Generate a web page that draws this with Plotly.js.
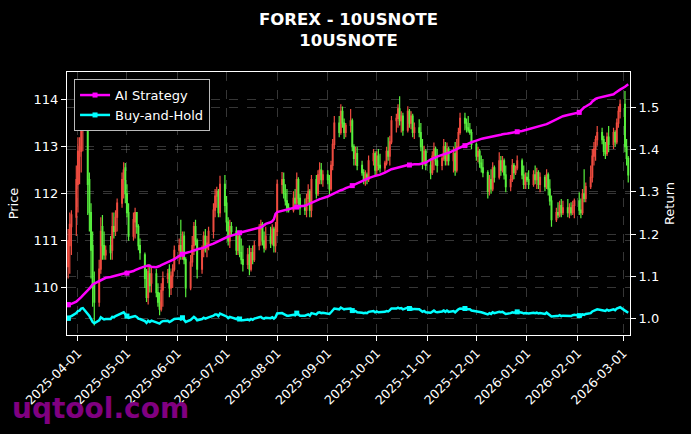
<!DOCTYPE html>
<html>
<head>
<meta charset="utf-8">
<script src="https://cdn.plot.ly/plotly-3.0.1.min.js"></script>
<style>
html,body{margin:0;padding:0;background:#000;}
#chart{width:691px;height:434px;}
</style>
</head>
<body>
<div id="chart"></div>
<script>
// ---------------- data ----------------
const startDate = "2025-03-26";
const endDate = "2026-03-04";

const openPx = [
  110.45, 110.9, 111.3, 111.5,
  112.2, 112.8, 112.9, 113.4, 113.7, 112.3, 111.6, 110.9, 110.1, 109.7, 110.4, 111.3, 110.9, 110.7, 110.9, 110.8, 111.3, 111.2, 111.5, 111.8, 112.3, 112.55,
  112.0, 111.6, 111.1, 111.4, 111.6, 111.3, 110.9, 110.7, 110.2, 109.8, 110.3, 110.1, 110.3, 109.9, 109.7, 109.55, 109.95, 110.2, 110.4, 110.0, 110.25, 110.4,
  110.8, 110.9, 110.8, 111.1, 110.6, 110.0, 110.55, 110.9, 111.3, 111.0, 110.4, 110.8, 111.1, 110.85, 110.95, 111.2, 111.65, 111.95, 112.05, 111.6, 112.2,
  111.8, 111.4, 111.0, 111.3, 111.2, 110.8, 111.1, 110.75, 110.6, 110.5, 110.7, 110.4, 110.75, 110.6, 110.9, 111.25, 111.35, 111.0, 110.85, 111.1, 110.95, 111.25, 110.9,
  111.2, 112.2, 112.3, 112.0, 111.85, 111.7, 111.65, 111.9, 111.8, 112.3, 111.9, 111.7, 111.65, 111.9, 112.05, 111.65, 112.3, 112.0, 112.4, 112.5, 112.3,
  112.4, 112.3, 112.1, 112.6, 113.05, 113.5, 113.3, 113.75, 113.5, 113.3, 113.45, 113.55, 113.0, 112.75, 112.85, 112.6, 112.45, 112.3, 112.4, 112.3, 112.7, 112.85,
  112.5, 112.8, 112.6, 112.55, 112.65, 112.9, 112.8, 113.1, 113.55, 113.6, 113.8, 113.55, 113.65, 113.35, 113.75, 113.5, 113.65, 113.3, 113.4, 113.3, 113.0, 112.65, 112.9,
  112.6, 112.45, 112.8, 112.95, 112.7, 112.6, 112.75, 113.0, 112.7, 112.95, 112.7, 112.85, 112.5, 113.0, 113.3, 113.6, 113.5, 113.4, 113.35, 113.3,
  113.05, 112.8, 112.9, 112.65, 112.55, 112.45, 112.05, 112.3, 112.1, 112.55, 112.35, 112.7, 112.5, 112.7, 112.4, 112.15, 112.3, 112.6, 112.45, 112.55, 112.7, 112.4, 112.2,
  112.35, 112.3, 112.2, 112.4, 112.3, 112.45, 112.2, 112.35, 112.15, 112.4, 112.1, 111.85, 111.45, 111.6, 111.55, 111.75, 111.6, 111.7, 111.6, 111.7, 111.6, 111.75,
  111.85, 111.65, 111.6, 112.0, 111.9, 112.15, 112.35, 112.8, 112.95, 113.15, 113.3, 113.15, 112.9, 112.85, 113.2, 113.05, 113.3, 113.1, 113.5, 113.75,
  113.9, 113.0, 112.75
];

const highPx = [
  111.25, 111.6, 111.65, 112.6,
  113.2, 113.2, 113.65, 113.9, 114.3, 112.45, 111.8, 111.2, 110.35, 110.6, 111.5, 111.55, 111.2, 110.9, 111.1, 111.6, 111.6, 111.65, 111.9, 112.45, 112.67, 112.65,
  112.2, 111.8, 111.6, 111.7, 111.6, 111.35, 111.05, 110.75, 110.4, 110.5, 110.5, 110.45, 110.4, 110.1, 109.9, 110.1, 110.35, 110.4, 110.5, 110.35, 110.5, 110.9,
  111.05, 111.45, 111.2, 111.2, 110.65, 110.7, 111.1, 111.4, 111.45, 111.05, 110.9, 111.2, 111.25, 111.1, 111.3, 111.8, 112.1, 112.15, 112.1, 112.38, 112.4,
  111.95, 111.5, 111.45, 111.4, 111.3, 111.2, 111.15, 111.05, 110.9, 110.85, 110.9, 110.85, 110.9, 111.0, 111.35, 111.45, 111.4, 111.2, 111.3, 111.3, 111.35, 111.3, 111.4,
  112.3, 112.46, 112.45, 112.2, 112.1, 111.8, 112.05, 112.1, 112.45, 112.35, 112.0, 111.9, 112.0, 112.2, 112.1, 112.4, 112.4, 112.5, 112.67, 112.65, 112.5,
  112.5, 112.4, 112.7, 113.16, 113.65, 113.65, 113.9, 113.85, 113.6, 113.5, 113.8, 113.6, 113.05, 113.0, 113.0, 112.7, 112.52, 112.5, 112.45, 112.81, 112.95, 112.9,
  112.9, 112.95, 112.85, 112.7, 113.0, 113.2, 113.23, 113.65, 113.7, 113.9, 114.07, 113.75, 113.72, 113.86, 113.8, 113.75, 113.7, 113.51, 113.58, 113.5, 113.16, 113.02, 112.95,
  112.75, 112.9, 113.09, 113.0, 112.95, 112.8, 113.16, 113.1, 113.09, 113.0, 113.0, 113.1, 113.16, 113.4, 113.72, 113.72, 113.6, 113.65, 113.5, 113.37,
  113.09, 113.0, 112.95, 112.81, 112.74, 112.5, 112.4, 112.52, 112.67, 112.6, 112.88, 112.8, 112.8, 112.75, 112.6, 112.4, 112.74, 112.65, 112.6, 112.81, 112.75, 112.6, 112.45,
  112.45, 112.5, 112.5, 112.6, 112.55, 112.5, 112.45, 112.4, 112.52, 112.45, 112.31, 111.96, 111.7, 111.82, 111.85, 111.89, 111.85, 111.89, 111.8, 111.82, 111.85, 111.9,
  112.03, 111.9, 112.1, 112.52, 112.24, 112.6, 112.95, 113.1, 113.23, 113.44, 113.4, 113.23, 113.1, 113.3, 113.44, 113.4, 113.35, 113.6, 113.86, 114.0,
  114.18, 113.16, 112.8
];

const lowPx = [
  110.2, 110.3, 110.7, 111.1,
  111.6, 112.2, 112.45, 112.9, 111.55, 111.2, 110.2, 109.6, 109.2, 109.6, 110.3, 110.6, 110.6, 110.6, 110.6, 110.6, 111.05, 111.1, 111.2, 111.7, 111.9, 111.8,
  111.5, 111.0, 111.0, 111.05, 111.15, 110.8, 110.6, 110.0, 109.7, 109.65, 109.9, 109.9, 109.8, 109.6, 109.42, 109.5, 109.6, 110.1, 109.8, 109.85, 110.0, 110.35,
  110.5, 110.6, 110.6, 110.5, 109.8, 109.95, 110.45, 110.7, 110.9, 110.2, 110.3, 110.65, 110.75, 110.65, 110.8, 111.05, 111.5, 111.7, 111.5, 111.5, 111.6,
  111.2, 110.9, 110.85, 111.1, 110.7, 110.7, 110.65, 110.5, 110.35, 110.4, 110.27, 110.35, 110.5, 110.55, 110.8, 110.9, 110.9, 110.75, 110.8, 110.85, 110.9, 110.75, 110.75,
  111.1, 112.0, 111.9, 111.75, 111.6, 111.6, 111.6, 111.7, 111.75, 111.75, 111.55, 111.55, 111.5, 111.8, 111.5, 111.5, 111.9, 111.95, 112.2, 112.2, 112.15,
  112.2, 111.96, 112.05, 112.5, 112.95, 113.2, 113.25, 113.4, 113.16, 113.2, 113.3, 112.9, 112.6, 112.6, 112.5, 112.38, 112.2, 112.17, 112.2, 112.25, 112.6, 112.4,
  112.4, 112.5, 112.45, 112.45, 112.6, 112.7, 112.6, 113.05, 113.3, 113.4, 113.45, 113.3, 113.23, 113.3, 113.4, 113.37, 113.2, 113.16, 113.2, 112.9, 112.52, 112.6, 112.5,
  112.31, 112.4, 112.5, 112.6, 112.45, 112.5, 112.7, 112.6, 112.6, 112.6, 112.45, 112.38, 112.45, 112.95, 113.25, 113.35, 113.3, 113.3, 113.25, 112.95,
  112.7, 112.67, 112.55, 112.45, 112.35, 111.9, 111.96, 112.0, 112.05, 112.24, 112.3, 112.38, 112.45, 112.3, 112.03, 112.05, 112.25, 112.31, 112.4, 112.5, 112.31, 112.1, 112.1,
  112.25, 112.1, 112.15, 112.2, 112.1, 112.1, 112.03, 112.05, 112.1, 111.96, 111.75, 111.3, 111.4, 111.48, 111.5, 111.5, 111.55, 111.5, 111.48, 111.54, 111.55, 111.48,
  111.55, 111.48, 111.55, 111.82, 111.82, 112.1, 112.24, 112.6, 112.7, 113.02, 113.05, 112.8, 112.74, 112.8, 112.88, 112.95, 113.0, 113.05, 113.4, 113.6,
  112.88, 112.6, 112.24
];

const closePx = [
  111.0, 111.35, 111.55, 112.3,
  112.9, 113.0, 113.5, 113.7, 112.2, 111.6, 110.8, 110.0, 109.7, 110.4, 111.2, 110.9, 110.7, 110.8, 110.75, 111.3, 111.2, 111.5, 111.8, 112.3, 112.5, 112.0,
  111.6, 111.1, 111.45, 111.6, 111.3, 110.9, 110.75, 110.2, 109.8, 110.35, 110.05, 110.3, 109.9, 109.7, 109.55, 109.95, 110.2, 110.3, 110.0, 110.25, 110.4, 110.8,
  110.9, 110.7, 111.1, 110.6, 110.0, 110.55, 110.9, 111.3, 111.0, 110.4, 110.8, 111.1, 110.85, 110.95, 111.2, 111.65, 111.95, 112.05, 111.6, 112.2, 111.75,
  111.4, 111.0, 111.3, 111.2, 110.8, 111.1, 110.75, 110.6, 110.5, 110.7, 110.4, 110.75, 110.6, 110.9, 111.25, 111.35, 111.0, 110.85, 111.1, 110.95, 111.25, 110.9, 111.2,
  112.2, 112.3, 112.0, 111.85, 111.7, 111.65, 111.9, 111.8, 112.3, 111.9, 111.7, 111.65, 111.9, 112.05, 111.65, 112.3, 112.0, 112.4, 112.5, 112.3, 112.4,
  112.3, 112.1, 112.6, 113.05, 113.5, 113.3, 113.75, 113.5, 113.3, 113.45, 113.55, 113.0, 112.75, 112.85, 112.6, 112.45, 112.3, 112.4, 112.3, 112.7, 112.85, 112.5,
  112.8, 112.6, 112.55, 112.65, 112.9, 112.8, 113.1, 113.55, 113.6, 113.8, 113.55, 113.65, 113.35, 113.75, 113.5, 113.65, 113.3, 113.4, 113.3, 113.0, 112.65, 112.9, 112.6,
  112.45, 112.8, 112.95, 112.7, 112.6, 112.75, 113.0, 112.7, 112.95, 112.7, 112.85, 112.5, 113.0, 113.3, 113.6, 113.5, 113.4, 113.35, 113.3, 113.05,
  112.8, 112.9, 112.65, 112.55, 112.45, 112.05, 112.3, 112.1, 112.55, 112.35, 112.7, 112.5, 112.7, 112.4, 112.15, 112.3, 112.6, 112.45, 112.55, 112.7, 112.4, 112.2, 112.35,
  112.3, 112.2, 112.4, 112.3, 112.45, 112.2, 112.35, 112.15, 112.4, 112.1, 111.85, 111.45, 111.6, 111.55, 111.75, 111.6, 111.7, 111.6, 111.7, 111.6, 111.75, 111.85,
  111.65, 111.6, 112.0, 111.9, 112.15, 112.35, 112.8, 112.95, 113.15, 113.3, 113.15, 112.9, 112.85, 113.2, 113.05, 113.3, 113.1, 113.5, 113.75, 113.9,
  113.0, 112.75, 112.4
];

const aiReturn = [
  1.032, 1.033, 1.034, 1.039,
  1.042, 1.045, 1.05, 1.054, 1.065, 1.07, 1.075, 1.08, 1.082, 1.088, 1.09, 1.092, 1.094, 1.096, 1.098, 1.099, 1.1, 1.101, 1.102, 1.104, 1.105, 1.106,
  1.107, 1.108, 1.112, 1.114, 1.116, 1.117, 1.119, 1.123, 1.124, 1.125, 1.124, 1.122, 1.121, 1.122, 1.124, 1.126, 1.128, 1.132, 1.134, 1.136, 1.138, 1.14,
  1.148, 1.15, 1.152, 1.154, 1.155, 1.158, 1.16, 1.161, 1.162, 1.164, 1.166, 1.167, 1.169, 1.171, 1.173, 1.177, 1.179, 1.181, 1.182, 1.184, 1.19,
  1.192, 1.194, 1.195, 1.196, 1.2, 1.201, 1.203, 1.204, 1.205, 1.207, 1.209, 1.21, 1.211, 1.212, 1.214, 1.216, 1.218, 1.221, 1.224, 1.228, 1.23, 1.235, 1.248,
  1.252, 1.255, 1.257, 1.258, 1.259, 1.26, 1.262, 1.263, 1.264, 1.265, 1.266, 1.267, 1.269, 1.271, 1.273, 1.275, 1.279, 1.281, 1.283, 1.284, 1.285,
  1.289, 1.291, 1.293, 1.295, 1.297, 1.302, 1.304, 1.305, 1.307, 1.309, 1.313, 1.315, 1.317, 1.319, 1.321, 1.326, 1.328, 1.33, 1.332, 1.333, 1.337, 1.338,
  1.339, 1.34, 1.341, 1.346, 1.348, 1.35, 1.352, 1.354, 1.357, 1.358, 1.36, 1.361, 1.362, 1.364, 1.364, 1.365, 1.365, 1.366, 1.366, 1.367, 1.367, 1.368, 1.37,
  1.377, 1.379, 1.381, 1.382, 1.384, 1.388, 1.389, 1.39, 1.391, 1.393, 1.398, 1.4, 1.402, 1.404, 1.406, 1.41, 1.412, 1.414, 1.416, 1.418,
  1.422, 1.424, 1.425, 1.426, 1.427, 1.429, 1.43, 1.431, 1.432, 1.433, 1.435, 1.436, 1.437, 1.438, 1.438, 1.44, 1.441, 1.442, 1.442, 1.443, 1.445, 1.446, 1.447,
  1.448, 1.449, 1.452, 1.453, 1.455, 1.456, 1.457, 1.46, 1.461, 1.463, 1.465, 1.467, 1.473, 1.475, 1.477, 1.479, 1.48, 1.483, 1.484, 1.485, 1.486, 1.487,
  1.489, 1.493, 1.498, 1.501, 1.503, 1.51, 1.515, 1.519, 1.521, 1.523, 1.526, 1.527, 1.528, 1.529, 1.53, 1.532, 1.535, 1.538, 1.541, 1.543,
  1.55, 1.553, 1.556
];

const holdReturn = [
  1.0, 1.003, 1.005, 1.012,
  1.017, 1.018, 1.023, 1.024, 1.011, 1.005, 0.998, 0.991, 0.988, 0.995, 1.002, 0.999, 0.997, 0.998, 0.998, 1.003, 1.002, 1.005, 1.007, 1.012, 1.014, 1.009,
  1.005, 1.001, 1.004, 1.005, 1.003, 0.999, 0.998, 0.993, 0.989, 0.994, 0.991, 0.994, 0.99, 0.988, 0.987, 0.991, 0.993, 0.994, 0.991, 0.993, 0.995, 0.998,
  0.999, 0.997, 1.001, 0.996, 0.991, 0.996, 0.999, 1.003, 1.0, 0.995, 0.998, 1.001, 0.999, 1.0, 1.002, 1.006, 1.009, 1.009, 1.005, 1.011, 1.007,
  1.004, 1.0, 1.003, 1.002, 0.998, 1.001, 0.998, 0.996, 0.995, 0.997, 0.995, 0.998, 0.996, 0.999, 1.002, 1.003, 1.0, 0.999, 1.001, 1.0, 1.002, 0.999, 1.002,
  1.011, 1.012, 1.009, 1.008, 1.006, 1.006, 1.008, 1.007, 1.012, 1.008, 1.006, 1.006, 1.008, 1.009, 1.006, 1.012, 1.009, 1.013, 1.014, 1.012, 1.013,
  1.012, 1.01, 1.014, 1.018, 1.023, 1.021, 1.025, 1.023, 1.021, 1.022, 1.023, 1.018, 1.016, 1.017, 1.014, 1.013, 1.012, 1.013, 1.012, 1.015, 1.017, 1.014,
  1.016, 1.014, 1.014, 1.015, 1.017, 1.016, 1.019, 1.023, 1.023, 1.025, 1.023, 1.024, 1.021, 1.025, 1.023, 1.024, 1.021, 1.022, 1.021, 1.018, 1.015, 1.017, 1.014,
  1.013, 1.016, 1.018, 1.015, 1.014, 1.016, 1.018, 1.015, 1.018, 1.015, 1.017, 1.014, 1.018, 1.021, 1.023, 1.023, 1.022, 1.021, 1.021, 1.018,
  1.016, 1.017, 1.015, 1.014, 1.013, 1.009, 1.012, 1.01, 1.014, 1.012, 1.015, 1.014, 1.015, 1.013, 1.01, 1.012, 1.014, 1.013, 1.014, 1.015, 1.013, 1.011, 1.012,
  1.012, 1.011, 1.013, 1.012, 1.013, 1.011, 1.012, 1.01, 1.013, 1.01, 1.008, 1.004, 1.005, 1.005, 1.007, 1.005, 1.006, 1.005, 1.006, 1.005, 1.007, 1.008,
  1.006, 1.005, 1.009, 1.008, 1.01, 1.012, 1.016, 1.018, 1.019, 1.021, 1.019, 1.017, 1.017, 1.02, 1.018, 1.021, 1.019, 1.023, 1.025, 1.026,
  1.018, 1.016, 1.013
];

const tickDates = ["2025-04-01","2025-05-01","2025-06-01","2025-07-01","2025-08-01","2025-09-01",
                   "2025-10-01","2025-11-01","2025-12-01","2026-01-01","2026-02-01","2026-03-01"];
const priceTicks = [110, 111, 112, 113, 114];
const returnTicks = [1.0, 1.1, 1.2, 1.3, 1.4, 1.5];

// ---------------- style ----------------
const markerIdx = [0, 26, 50, 75, 100, 124, 149, 173, 197, 223];
const COL_UP = '#ee4b3f', COL_DN = '#57ee3d';
const COL_AI = '#ff00ff', COL_BH = '#00ffff';
const GRID = 'rgba(150,150,150,0.45)';
const FONT = 'DejaVu Sans';

function tradingDays(s, e) {
  const out = [];
  const d = new Date(s + 'T00:00:00Z');
  const end = new Date(e + 'T00:00:00Z');
  while (d <= end) {
    const wd = d.getUTCDay();
    if (wd !== 0 && wd !== 6) out.push(d.toISOString().slice(0, 10));
    d.setUTCDate(d.getUTCDate() + 1);
  }
  return out;
}
const dates = tradingDays(startDate, endDate);
const markerSizes = dates.map((_, i) => markerIdx.includes(i) ? 5 : 0);

const traces = [
  {
    type: 'candlestick', x: dates, open: openPx, high: highPx, low: lowPx, close: closePx,
    xaxis: 'x', yaxis: 'y', showlegend: false, hoverinfo: 'skip',
    increasing: {line: {color: COL_UP, width: 1.2}, fillcolor: COL_UP},
    decreasing: {line: {color: COL_DN, width: 1.2}, fillcolor: COL_DN}
  },
  {
    type: 'scatter', mode: 'lines+markers', x: dates, y: aiReturn, yaxis: 'y2',
    line: {color: COL_AI, width: 2.5},
    marker: {color: COL_AI, size: markerSizes, symbol: 'square', opacity: 1, line: {width: 0, color: COL_AI}},
    showlegend: false, hoverinfo: 'skip'
  },
  {
    type: 'scatter', mode: 'lines+markers', x: dates, y: holdReturn, yaxis: 'y2',
    line: {color: COL_BH, width: 2.5},
    marker: {color: COL_BH, size: markerSizes, symbol: 'square', opacity: 1, line: {width: 0, color: COL_BH}},
    showlegend: false, hoverinfo: 'skip'
  },
  // legend entries (single point that coincides with the first marker)
  {
    type: 'scatter', mode: 'lines+markers', name: 'AI Strategy', x: [dates[0]], y: [aiReturn[0]], yaxis: 'y2',
    line: {color: COL_AI, width: 2.5}, marker: {color: COL_AI, size: 5, symbol: 'square', line: {width: 0}}, hoverinfo: 'skip'
  },
  {
    type: 'scatter', mode: 'lines+markers', name: 'Buy-and-Hold', x: [dates[0]], y: [holdReturn[0]], yaxis: 'y2',
    line: {color: COL_BH, width: 2.5}, marker: {color: COL_BH, size: 5, symbol: 'square', line: {width: 0}}, hoverinfo: 'skip'
  }
];

const layout = {
  width: 691, height: 434,
  paper_bgcolor: '#000', plot_bgcolor: '#000',
  margin: {l: 67, r: 61, t: 72, b: 99, pad: 0},
  font: {family: FONT, color: '#ffffff', size: 13},
  title: {
    text: '<b>FOREX - 10USNOTE</b><br><b>10USNOTE</b>',
    font: {family: FONT, size: 16.5, color: '#ffffff'},
    x: 0.5, xref: 'paper', xanchor: 'center',
    y: 0.9425, yref: 'container', yanchor: 'top'
  },
  showlegend: true,
  legend: {
    x: 0.0125, y: 0.973, xanchor: 'left', yanchor: 'top',
    bgcolor: '#000000', bordercolor: '#bbbbbb', borderwidth: 1,
    font: {family: FONT, size: 13, color: '#ffffff'}
  },
  xaxis: {
    type: 'date', range: ['2025-03-25 07:00', '2026-03-05 02:00'],
    tickmode: 'array', tickvals: tickDates, ticktext: tickDates, tickangle: -45,
    tickfont: {family: FONT, size: 12.5, color: '#ffffff'},
    ticks: 'outside', ticklen: 5, tickcolor: '#ffffff', tickwidth: 1,
    showline: true, linecolor: '#ffffff', linewidth: 1, mirror: true,
    showgrid: true, gridcolor: GRID, gridwidth: 0.8, griddash: 'dash',
    zeroline: false, rangeslider: {visible: false}, fixedrange: true
  },
  yaxis: {
    range: [109.0, 114.585], tickmode: 'array', tickvals: priceTicks, ticktext: priceTicks.map(String),
    tickfont: {family: FONT, size: 13, color: '#ffffff'},
    ticks: 'outside', ticklen: 5, tickcolor: '#ffffff', tickwidth: 1,
    showline: true, linecolor: '#ffffff', linewidth: 1, mirror: true,
    showgrid: true, gridcolor: GRID, gridwidth: 0.8, griddash: 'dash',
    zeroline: false, fixedrange: true,
    title: {text: 'Price', font: {family: FONT, size: 13, color: '#ffffff'}, standoff: 12}
  },
  yaxis2: {
    overlaying: 'y', side: 'right', range: [0.960, 1.585],
    tickmode: 'array', tickvals: returnTicks, ticktext: returnTicks.map(v => v.toFixed(1)),
    tickfont: {family: FONT, size: 13, color: '#ffffff'},
    ticks: 'outside', ticklen: 5, tickcolor: '#ffffff', tickwidth: 1,
    showline: true, linecolor: '#ffffff', linewidth: 1,
    showgrid: true, gridcolor: GRID, gridwidth: 0.8, griddash: 'dash',
    zeroline: false, fixedrange: true,
    title: {text: 'Return', font: {family: FONT, size: 13, color: '#ffffff'}, standoff: 6}
  },
  annotations: [{
    text: '<b>uqtool.com</b>', showarrow: false,
    xref: 'paper', yref: 'paper', x: -0.1012, y: -0.2776, xanchor: 'left', yanchor: 'middle',
    font: {family: FONT, size: 28, color: '#800080'}
  }]
};

Plotly.newPlot('chart', traces, layout, {staticPlot: true, displayModeBar: false});
</script>
</body>
</html>
